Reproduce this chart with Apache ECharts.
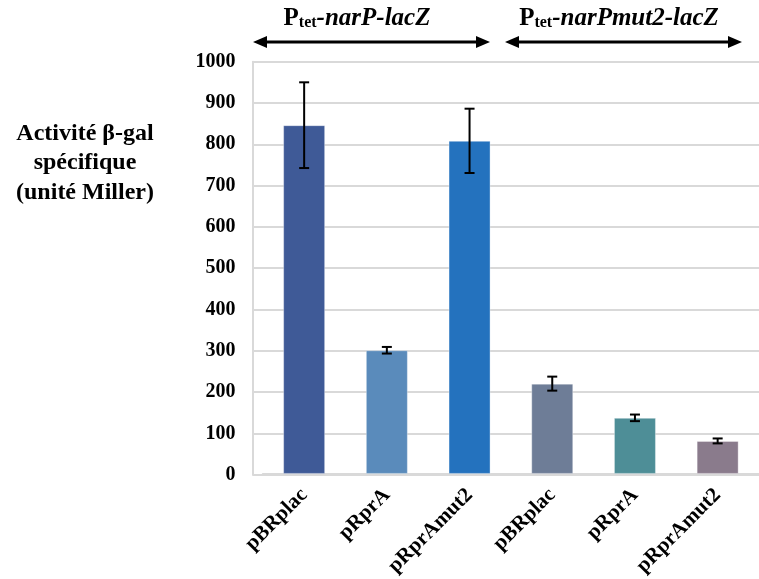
<!DOCTYPE html>
<html>
<head>
<meta charset="utf-8">
<script src="https://cdn.jsdelivr.net/npm/echarts@6/dist/echarts.min.js"></script>
<style>html,body{margin:0;padding:0;background:#fff;}#c{width:759px;height:579px;}</style>
</head>
<body>
<div id="c"></div>
<script>
var categories = ['pBRplac', 'pRprA', 'pRprAmut2', 'pBRplac', 'pRprA', 'pRprAmut2'];
var values = [846, 300, 808, 219, 136, 80];
var errors = [104, 8, 78, 17, 8, 6];
var barColors = ['#3F5A97', '#5A8BBB', '#2472BE', '#6E7D97', '#4E8E97', '#8A7B8C'];
var yTicks = [0, 100, 200, 300, 400, 500, 600, 700, 800, 900, 1000];
var yTitle = ['Activité β-gal', 'spécifique', '(unité Miller)'];
var groupTitles = [['P', 'tet', '-narP-lacZ'], ['P', 'tet', '-narPmut2-lacZ']];

var serif = '"Liberation Serif", "Times New Roman", serif';
var chart = echarts.init(document.getElementById('c'));

var gridTop = 61.7, gridBottom = 104.3;

function arrow(x1, x2, y) {
  return [
    {type: 'line', shape: {x1: x1 + 8, y1: y, x2: x2 - 8, y2: y}, style: {stroke: '#000', lineWidth: 3}},
    {type: 'polygon', shape: {points: [[x1, y], [x1 + 14, y - 6], [x1 + 14, y + 6]]}, style: {fill: '#000'}},
    {type: 'polygon', shape: {points: [[x2, y], [x2 - 14, y - 6], [x2 - 14, y + 6]]}, style: {fill: '#000'}}
  ];
}
function header(parts, cx) {
  return {
    type: 'text', x: cx, y: 31,
    style: {
      text: '{p|' + parts[0] + '}{s|' + parts[1] + '}{i|' + parts[2] + '}',
      align: 'center', verticalAlign: 'bottom',
      rich: {
        p: {font: 'bold 25px ' + serif, fill: '#000'},
        s: {font: 'bold 16px ' + serif, fill: '#000', verticalAlign: 'bottom', lineHeight: 14},
        i: {font: 'italic bold 25px ' + serif, fill: '#000'}
      }
    }
  };
}

var graphics = [];
graphics = graphics.concat(arrow(253, 490, 42), arrow(505, 742, 42));
graphics.push(header(groupTitles[0], 357));
graphics.push(header(groupTitles[1], 619));
graphics.push({
  type: 'text', x: 85, y: 119,
  style: {
    text: yTitle.join('\n'), align: 'center', verticalAlign: 'top',
    font: 'bold 24px ' + serif, lineHeight: 29.5, fill: '#000'
  }
});

var option = {
  animation: false,
  backgroundColor: '#fff',
  grid: [
    {left: 252.5, right: 0, top: gridTop, bottom: gridBottom},
    {left: 262.8, right: 0, top: gridTop, bottom: gridBottom}
  ],
  xAxis: [
    {gridIndex: 0, type: 'value', min: 0, max: 1, show: false},
    {
      gridIndex: 1, type: 'category', data: categories,
      axisLine: {show: true, lineStyle: {color: '#D9D9D9', width: 2}},
      axisTick: {show: false},
      axisLabel: {rotate: 45, interval: 0, margin: 18, color: '#000', fontFamily: serif, fontWeight: 'bold', fontSize: 21}
    }
  ],
  yAxis: [
    {
      gridIndex: 0, type: 'value', min: 0, max: 1000, interval: 100,
      axisLine: {show: true, lineStyle: {color: '#D9D9D9', width: 2}},
      axisTick: {show: false},
      splitLine: {show: true, lineStyle: {color: '#D9D9D9', width: 2}},
      axisLabel: {margin: 17, color: '#000', fontFamily: serif, fontWeight: 'bold', fontSize: 20,
        formatter: function (v) { return String(v); }}
    },
    {gridIndex: 1, type: 'value', min: 0, max: 1000, interval: 100, show: false, splitLine: {show: false}}
  ],
  series: [
    {
      type: 'bar', xAxisIndex: 1, yAxisIndex: 1, barWidth: 42,
      data: values.map(function (v, i) {
        return {value: v, itemStyle: {color: barColors[i], borderColor: 'rgba(255,255,255,0.35)', borderWidth: 1}};
      })
    },
    {
      type: 'custom', xAxisIndex: 1, yAxisIndex: 1, z: 10,
      data: values.map(function (v, i) { return [i, v - errors[i], v + errors[i]]; }),
      renderItem: function (params, api) {
        var lo = api.coord([api.value(0), api.value(1)]);
        var hi = api.coord([api.value(0), api.value(2)]);
        var hw = 5;
        var st = {stroke: '#000', lineWidth: 2};
        return {
          type: 'group', children: [
            {type: 'line', shape: {x1: lo[0], y1: lo[1], x2: hi[0], y2: hi[1]}, style: st},
            {type: 'line', shape: {x1: hi[0] - hw, y1: hi[1], x2: hi[0] + hw, y2: hi[1]}, style: st},
            {type: 'line', shape: {x1: lo[0] - hw, y1: lo[1], x2: lo[0] + hw, y2: lo[1]}, style: st}
          ]
        };
      }
    }
  ],
  graphic: graphics
};
chart.setOption(option);
</script>
</body>
</html>
